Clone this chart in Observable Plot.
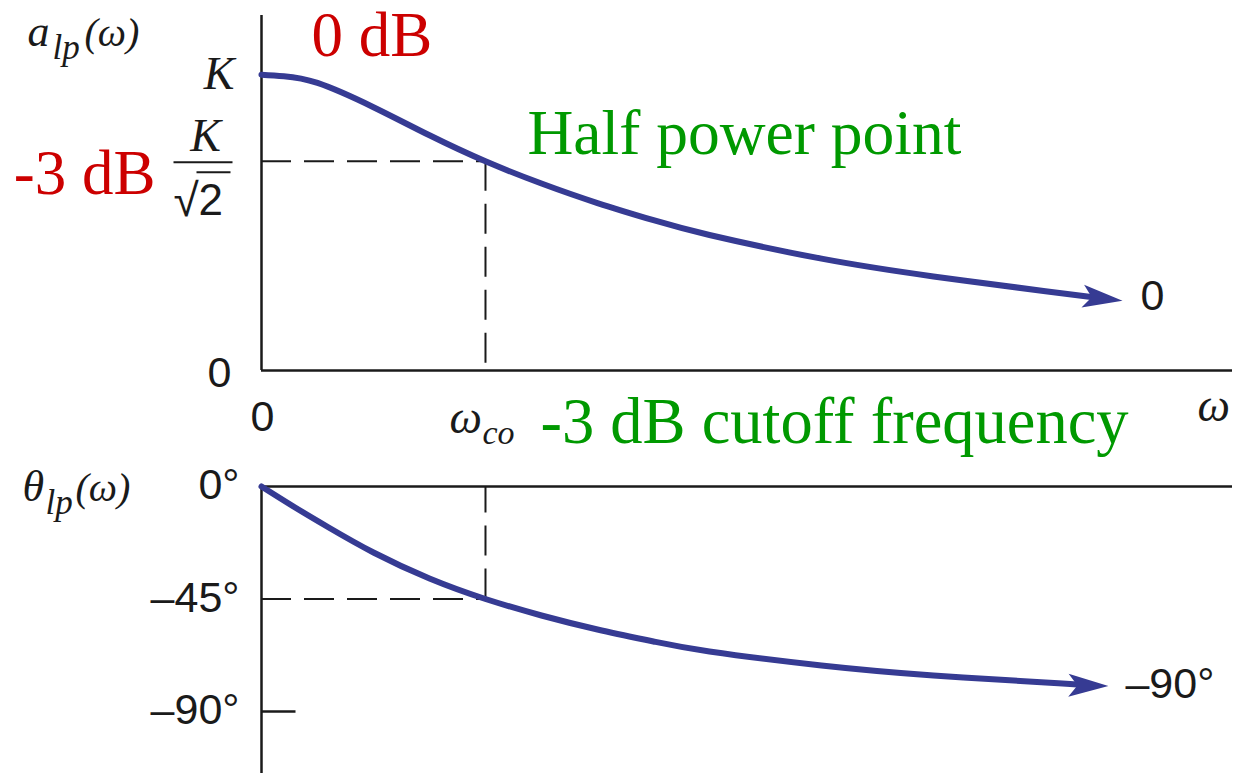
<!DOCTYPE html>
<html><head><meta charset="utf-8">
<script src="https://cdn.jsdelivr.net/npm/d3@7"></script>
<script src="https://cdn.jsdelivr.net/npm/@observablehq/plot@0.6"></script>
<style>
body{margin:0;background:#fff;}
#wrap{position:relative;width:1245px;height:773px;overflow:hidden;background:#fff;}
#wrap svg{position:absolute;left:0;}
</style></head><body><div id="wrap"></div>
<script>
// ---- values ----
const magOmega   = [0, 0.1, 0.25, 0.5, 0.75, 1.0, 1.25, 1.5, 1.75, 2.0, 2.5, 3.0, 3.5, 3.74, 3.844];
const magValue   = [1.0, 0.995, 0.972, 0.890, 0.795, 0.7071, 0.632, 0.566, 0.508, 0.458, 0.378, 0.318, 0.268, 0.245, 0.236];
const phaseOmega = [0, 0.15, 0.3, 0.5, 0.75, 1.0, 1.25, 1.5, 1.75, 2.0, 2.5, 3.0, 3.5, 3.70, 3.781];
const phaseDeg   = [0, -8.4, -16.4, -26.4, -36.8, -45, -51.6, -57.2, -62.0, -66.0, -71.6, -75.6, -78.4, -79.6, -79.8];
const omegaCo = 1;              // cutoff frequency
const K = 1;                    // passband gain
const halfPower = Math.SQRT1_2; // K/sqrt(2)
const omegaMax = 4.335;
const magTop = 1.2;
const phaseBottom = -114.8;
const phaseTicks = [0, -45, -90];
const phaseTickLabels = ["0°", "–45°", "–90°"];

const magPts = magOmega.map((w, i) => ({w, a: magValue[i]}));
const phPts = phaseOmega.map((w, i) => ({w, p: phaseDeg[i]}));
const magTip = magPts[magPts.length - 1];
const phTip = phPts[phPts.length - 1];

const blue = "#363b93", ink = "#1a1a1a", red = "#cc0000", green = "#009900";
const serif = "Liberation Serif", sans = "Liberation Sans";
const axisStyle = {stroke: ink, strokeWidth: 2.5};
const dashStyle = {stroke: ink, strokeWidth: 2, strokeDasharray: "30,13"};
const sansLbl = {fontFamily: sans, fontSize: 43, fill: ink};

const arrowHead = {draw(c) { c.moveTo(0, 0); c.lineTo(-40, -11.5); c.lineTo(-31, 0); c.lineTo(-40, 11.5); c.closePath(); }};
const hline = (start, len) => ({draw(c) { c.moveTo(start, 0); c.lineTo(start + len, 0); }});

function label(text, x, y, o) {
  return Plot.text([{x, y, text}], {x: "x", y: "y", text: "text", lineAnchor: "bottom", ...o});
}
const mathIt = {fontFamily: serif, fontStyle: "italic", fill: ink};

const topPlot = Plot.plot({
  width: 1245, height: 462,
  marginLeft: 261, marginRight: 13, marginTop: 15, marginBottom: 92,
  x: {domain: [0, omegaMax], axis: null},
  y: {domain: [0, magTop], axis: null},
  style: {background: "transparent", overflow: "visible"},
  marks: [
    Plot.ruleY([halfPower], {x1: 0, x2: omegaCo, ...dashStyle}),
    Plot.ruleX([omegaCo], {y1: halfPower, y2: 0, ...dashStyle}),
    Plot.ruleX([0], axisStyle),
    Plot.ruleY([0], axisStyle),
    Plot.line(magPts.slice(0, -1), {x: "w", y: "a", curve: "natural", stroke: blue, strokeWidth: 6}),
    Plot.dot([magTip], {x: "w", y: "a", symbol: arrowHead, r: 1, fill: blue, stroke: "none", rotate: 6.5}),
    // y tick labels
    label("0", 0, 0, {...sansLbl, textAnchor: "end", lineAnchor: "middle", dx: -30, dy: 3}),
    label("K", 0, K, {...mathIt, fontSize: 46, textAnchor: "end", dx: -27, dy: 14}),
    label("K", 0, halfPower, {...mathIt, fontSize: 46, textAnchor: "middle", dx: -56, dy: -10}),
    Plot.dot([{x: 0, y: halfPower}], {x: "x", y: "y", symbol: hline(-88, 59), r: 1, stroke: ink, strokeWidth: 2, dy: 1}),
    label("√", 0, halfPower, {fontFamily: sans, fontSize: 46, fill: ink, textAnchor: "start", dx: -88, dy: 55}),
    label("2", 0, halfPower, {fontFamily: sans, fontSize: 44, fill: ink, textAnchor: "start", dx: -63, dy: 54}),
    Plot.dot([{x: 0, y: halfPower}], {x: "x", y: "y", symbol: hline(-65, 34), r: 1, stroke: ink, strokeWidth: 2, dy: 11}),
    // x tick labels
    label("0", 0, 0, {...sansLbl, textAnchor: "middle", lineAnchor: "middle", dx: 1, dy: 47}),
    label("ω", omegaCo, 0, {...mathIt, fontSize: 46, textAnchor: "start", dx: -36, dy: 62}),
    label("co", omegaCo, 0, {...mathIt, fontSize: 34, textAnchor: "start", dx: -3, dy: 73}),
    label("ω", omegaMax, 0, {...mathIt, fontSize: 46, textAnchor: "start", dx: -35, dy: 50}),
    // axis title
    label("a", 0, magTop, {...mathIt, fontSize: 44, textAnchor: "start", dx: -234, dy: 30}),
    label("lp", 0, magTop, {...mathIt, fontSize: 35, textAnchor: "start", dx: -209, dy: 43}),
    label("(ω)", 0, magTop, {...mathIt, fontSize: 40, textAnchor: "start", dx: -177, dy: 30}),
    // end label
    label("0", magTip.w, magTip.a, {...sansLbl, textAnchor: "start", lineAnchor: "middle", dx: 18, dy: -4}),
    // annotations
    label("0 dB", 0, K, {fontFamily: serif, fontSize: 63, fill: red, textAnchor: "start", dx: 50, dy: -19}),
    label("-3 dB", 0, halfPower, {fontFamily: serif, fontSize: 63, fill: red, textAnchor: "end", dx: -106, dy: 33}),
    label("Half power point", omegaCo, halfPower, {fontFamily: serif, fontSize: 63.5, fill: green, textAnchor: "start", dx: 42, dy: -7}),
    label("-3 dB cutoff frequency", omegaCo, 0, {fontFamily: serif, fontSize: 64.5, fill: green, textAnchor: "start", dx: 55, dy: 72})
  ]
});

const phasePlot = Plot.plot({
  width: 1245, height: 311,
  marginLeft: 261, marginRight: 13, marginTop: 24, marginBottom: 0,
  x: {domain: [0, omegaMax], axis: null},
  y: {domain: [phaseBottom, 0], axis: null},
  style: {background: "transparent", overflow: "visible"},
  marks: [
    Plot.ruleY([-45], {x1: 0, x2: omegaCo, ...dashStyle}),
    Plot.ruleX([omegaCo], {y1: -45, y2: 0, ...dashStyle}),
    Plot.ruleX([0], axisStyle),
    Plot.ruleY([0], axisStyle),
    Plot.dot([-90], {x: 0, y: d => d, symbol: hline(0, 34), r: 1, ...axisStyle}),
    Plot.line(phPts.slice(0, -1), {x: "w", y: "p", curve: "natural", stroke: blue, strokeWidth: 6}),
    Plot.dot([phTip], {x: "w", y: "p", symbol: arrowHead, r: 1, fill: blue, stroke: "none", rotate: 1}),
    Plot.text(phaseTicks, {x: 0, y: d => d, text: (d, i) => phaseTickLabels[i], ...sansLbl, textAnchor: "end", lineAnchor: "middle", dx: -22, dy: -1}),
    label("θ", 0, 0, {...mathIt, fontSize: 44, textAnchor: "start", dx: -239, dy: 14}),
    label("lp", 0, 0, {...mathIt, fontSize: 35, textAnchor: "start", dx: -216, dy: 27}),
    label("(ω)", 0, 0, {...mathIt, fontSize: 40, textAnchor: "start", dx: -186, dy: 14}),
    label("–90°", phTip.w, phTip.p, {...sansLbl, textAnchor: "start", lineAnchor: "middle", dx: 17, dy: -2})
  ]
});

const wrap = document.getElementById("wrap");
topPlot.style.top = "0px";
phasePlot.style.top = "462px";
wrap.appendChild(topPlot);
wrap.appendChild(phasePlot);
</script></body></html>
